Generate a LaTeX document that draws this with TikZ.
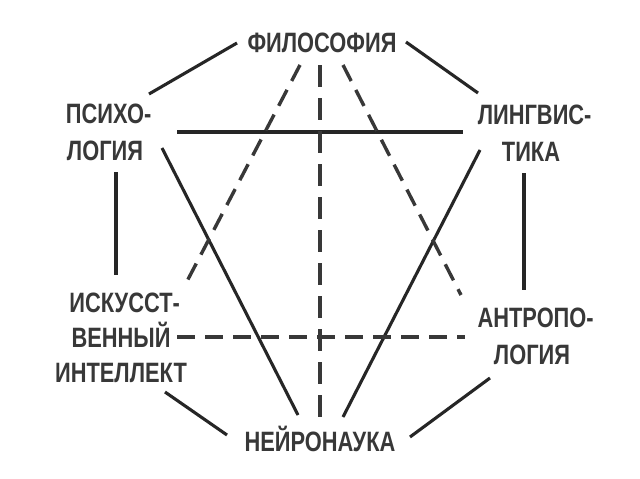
\documentclass[tikz,border=0pt]{standalone}
\usepackage{fontspec}
\setmainfont[FakeStretch=0.78]{Liberation Sans}
\begin{document}
\begin{tikzpicture}[x=1pt,y=-1pt,
  lbl/.style={inner sep=0pt, align=center, text=black!78, font=\fontsize{28}{37}\selectfont\bfseries},
  sol/.style={draw=black!85, line width=3.1pt},
  dsh/.style={draw=black!78, line width=3.4pt, dash pattern=on 18pt off 10pt},
  vdsh/.style={draw=black!78, line width=3.1pt, dash pattern=on 22pt off 11pt}]
\useasboundingbox[fill=white] (0,0) rectangle (640,479);
\node[lbl] (fil) at (322,43) {ФИЛОСОФИЯ};
\node[lbl] (psy) at (105,132) {ПСИХО\rlap{-}\\ЛОГИЯ};
\node[lbl] (lin) at (531,133) {ЛИНГВИС\rlap{-}\\ТИКА};
\node[lbl, font=\fontsize{28}{35}\selectfont\bfseries] (ai) at (121,338) {ИСКУССТ\rlap{-}\\ВЕННЫЙ\\ИНТЕЛЛЕКТ};
\node[lbl] (ant) at (532,336) {АНТРОПО\rlap{-}\\ЛОГИЯ};
\node[lbl] (neu) at (320,439) {НЕЙРОНАУКА};
% solid outer connectors
\draw[sol] ([shift={(-85,0)}]fil.center) -- ([shift={(44,-38)}]psy.center);
\draw[sol] ([shift={(84,-1)}]fil.center) -- ([shift={(-53,-40)}]lin.center);
\draw[sol] ([shift={(11,40)}]psy.center) -- ([shift={(-5,-63)}]ai.center);
\draw[sol] ([shift={(-7,40)}]lin.center) -- ([shift={(-8,-46)}]ant.center);
\draw[sol] ([shift={(44,54)}]ai.center) -- ([shift={(-93,-4)}]neu.center);
\draw[sol] ([shift={(-42,42)}]ant.center) -- ([shift={(90,-2)}]neu.center);
% inner solid connectors
\draw[sol] ([shift={(72,0)}]psy.center) -- ([shift={(-68,-1)}]lin.center);
\draw[sol] ([shift={(57,16)}]psy.center) -- ([shift={(-22,-24)}]neu.center);
\draw[sol] ([shift={(-51,17)}]lin.center) -- ([shift={(23,-22)}]neu.center);
% dashed connectors
\draw[dsh] ([shift={(-22,22)}]fil.center) -- ([shift={(63,-51)}]ai.center);
\draw[vdsh] ([shift={(-2,22)}]fil.center) -- ([shift={(0,-22)}]neu.center);
\draw[dsh] ([shift={(21,22)}]fil.center) -- ([shift={(-71,-41)}]ant.center);
\draw[dsh] ([shift={(56,-1)}]ai.center) -- ([shift={(-67,1)}]ant.center);
\end{tikzpicture}
\end{document}
